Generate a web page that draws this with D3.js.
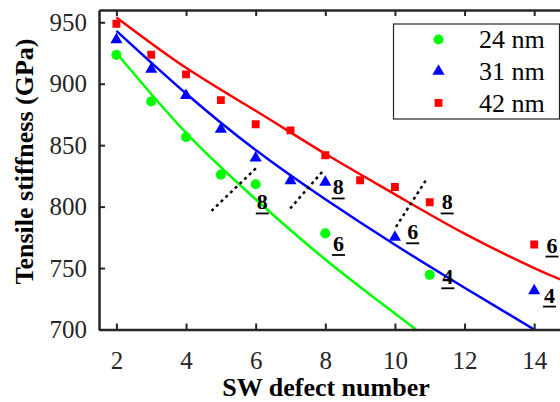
<!DOCTYPE html>
<html>
<head>
<meta charset="utf-8">
<script src="https://cdn.jsdelivr.net/npm/d3@7"></script>
<style>
  body { margin: 0; background: #fff; }
  svg { display: block; }
  svg text { font-family: "Times New Roman", "Liberation Serif", Times, serif; }
</style>
</head>
<body>
<svg id="chart"></svg>
<script>
// Measured points (SW defect number -> tensile stiffness, GPa)
const x24 = [2, 3, 4, 5, 6, 8, 11];
const y24 = [923.5, 885.6, 856.6, 826, 818.2, 778.2, 744.5];
const x31 = [2, 3, 4, 5, 6, 7, 8, 10, 14];
const y31 = [935.8, 911.7, 890.5, 863, 839.6, 821, 819.8, 775, 731.5];
const x42 = [2, 3, 4, 5, 6, 7, 8, 9, 10, 11, 14];
const y42 = [948.8, 923.6, 907.6, 886.7, 867, 862, 841.8, 821.5, 816, 803.6, 769.2];

// Fit curves at a few knots
const fitX24 = [2, 4, 6, 8, 10, 10.6];
const fitY24 = [925, 860, 806, 757, 713, 700];
const fitX31 = [2, 4, 6, 8, 10, 12, 14];
const fitY31 = [943, 892, 846, 806, 769, 734, 700];
const fitX42 = [2, 4, 6, 8, 10, 12, 14, 15];
const fitY42 = [954, 913, 878, 843, 810, 778, 750, 738];

const seriesNames = ["24 nm", "31 nm", "42 nm"];

// Underlined labels next to points, and dotted divider lines
const labelX = [6.19, 8.37, 10.51, 11.5, 8.38, 11.52, 14.51, 14.44];
const labelY = [797.7, 809.9, 773.4, 797.7, 763.9, 736.8, 762.6, 721.9];
const labelText = ["8", "8", "6", "8", "6", "4", "6", "4"];
const dividers = [
  [[4.73, 796.5], [6.05, 832.3]],
  [[6.99, 798.5], [7.97, 830.2]],
  [[10.03, 783.5], [10.89, 821.5]]
];

const xTicks = [2, 4, 6, 8, 10, 12, 14];
const yTicks = [700, 750, 800, 850, 900, 950];

const svgW = 560, svgH = 402;
const margin = { top: 10, right: -9, bottom: 72.5, left: 99 };
const width = svgW - margin.left - margin.right;
const height = svgH - margin.top - margin.bottom;
const axisColor = "#262626";
const serif = "'Times New Roman', 'Liberation Serif', Times, serif";

const svg = d3.select("#chart")
  .attr("width", svgW)
  .attr("height", svgH);

const g = svg.append("g")
  .attr("transform", `translate(${margin.left},${margin.top})`);

const x = d3.scaleLinear().domain([1.5, 15]).range([0, width]);
const y = d3.scaleLinear().domain([700, 960]).range([height, 0]);

g.append("clipPath").attr("id", "plot-clip")
  .append("rect").attr("width", width).attr("height", height);

const series = [
  { name: seriesNames[0], xs: x24, ys: y24, fx: fitX24, fy: fitY24, color: "#00ff00", shape: d3.symbolCircle, size: 80 },
  { name: seriesNames[1], xs: x31, ys: y31, fx: fitX31, fy: fitY31, color: "#0000ff", shape: d3.symbolTriangle, size: 64 },
  { name: seriesNames[2], xs: x42, ys: y42, fx: fitX42, fy: fitY42, color: "#ff0000", shape: d3.symbolSquare, size: 62 }
];

// Fit lines
const line = d3.line()
  .x(d => x(d[0]))
  .y(d => y(d[1]))
  .curve(d3.curveNatural);

const plot = g.append("g").attr("clip-path", "url(#plot-clip)");

series.forEach(s => {
  plot.append("path")
    .datum(d3.zip(s.fx, s.fy))
    .attr("fill", "none")
    .attr("stroke", s.color)
    .attr("stroke-width", 2.5)
    .attr("d", line);
});

// Dotted dividers
dividers.forEach(d => {
  plot.append("path")
    .datum(d)
    .attr("fill", "none")
    .attr("stroke", "#000")
    .attr("stroke-width", 2.5)
    .attr("stroke-dasharray", "3,3.5")
    .attr("d", d3.line().x(p => x(p[0])).y(p => y(p[1])));
});

// Markers
series.forEach(s => {
  plot.selectAll(null)
    .data(d3.zip(s.xs, s.ys))
    .join("path")
    .attr("transform", d => `translate(${x(d[0])},${y(d[1])})`)
    .attr("d", d3.symbol(s.shape, s.size))
    .attr("fill", s.color);
});

// Labels with underline
labelText.forEach((t, i) => {
  const lx = x(labelX[i]), ly = y(labelY[i]);
  g.append("text")
    .attr("x", lx)
    .attr("y", ly)
    .attr("text-anchor", "middle")
    .style("font-family", serif)
    .style("font-size", "22px")
    .style("font-weight", "bold")
    .text(t);
  g.append("line")
    .attr("x1", lx - 6.5).attr("x2", lx + 6.5)
    .attr("y1", ly + 4).attr("y2", ly + 4)
    .attr("stroke", "#000")
    .attr("stroke-width", 1.8);
});

// Axes
const xAxis = g.append("g")
  .attr("transform", `translate(0,${height})`)
  .call(d3.axisBottom(x).tickValues(xTicks).tickSize(-6).tickSizeOuter(0).tickPadding(22));

const xTop = g.append("g")
  .call(d3.axisTop(x).tickValues(xTicks).tickSize(-6).tickSizeOuter(0).tickFormat(""));

const yAxis = g.append("g")
  .call(d3.axisLeft(y).tickValues(yTicks).tickSize(-6).tickSizeOuter(0).tickPadding(12));

[xAxis, xTop, yAxis].forEach(a => {
  a.attr("font-family", null);
  a.select(".domain").attr("stroke", axisColor).attr("stroke-width", 2.5);
  a.selectAll(".tick line").attr("stroke", axisColor).attr("stroke-width", 2);
  a.selectAll(".tick text")
    .attr("fill", axisColor)
    .style("font-family", serif)
    .style("font-size", "25px");
});

// Axis titles
svg.append("text")
  .attr("x", 326)
  .attr("y", 396)
  .attr("text-anchor", "middle")
  .style("font-family", serif)
  .style("font-size", "26px")
  .style("font-weight", "bold")
  .attr("fill", "#000")
  .text("SW defect number");

svg.append("text")
  .attr("transform", "translate(33,161.5) rotate(-90)")
  .attr("text-anchor", "middle")
  .style("font-family", serif)
  .style("font-size", "26px")
  .style("font-weight", "bold")
  .attr("fill", "#000")
  .text("Tensile stiffness (GPa)");

// Legend
const legend = svg.append("g").attr("transform", "translate(393.5,24)");
legend.append("rect")
  .attr("width", 166)
  .attr("height", 95)
  .attr("fill", "#fff")
  .attr("stroke", axisColor)
  .attr("stroke-width", 1.2);

series.forEach((s, i) => {
  const rowY = 15.5 + i * 31.7;
  legend.append("path")
    .attr("transform", `translate(45,${rowY})`)
    .attr("d", d3.symbol(s.shape, s.size))
    .attr("fill", s.color);
  legend.append("text")
    .attr("x", 85.5)
    .attr("y", rowY + 8.8)
    .style("font-family", serif)
    .style("font-size", "26px")
    .attr("fill", "#000")
    .text(s.name);
});
</script>
</body>
</html>
